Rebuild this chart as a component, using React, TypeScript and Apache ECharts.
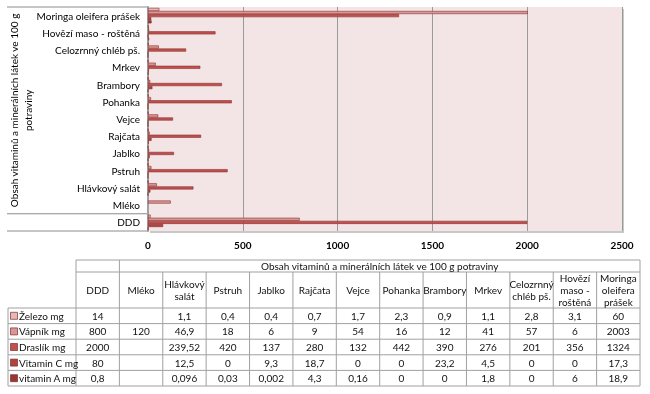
import React, { useEffect, useRef } from "react";
import * as echarts from "echarts";

const categories = [
  "DDD",
  "Mléko",
  "Hlávkový salát",
  "Pstruh",
  "Jablko",
  "Rajčata",
  "Vejce",
  "Pohanka",
  "Brambory",
  "Mrkev",
  "Celozrnný chléb pš.",
  "Hovězí maso - roštěná",
  "Moringa oleifera prášek",
];
const tableHeaders = [
  "DDD",
  "Mléko",
  "Hlávkový\nsalát",
  "Pstruh",
  "Jablko",
  "Rajčata",
  "Vejce",
  "Pohanka",
  "Brambory",
  "Mrkev",
  "Celozrnný\nchléb pš.",
  "Hovězí\nmaso -\nroštěná",
  "Moringa\noleifera\nprášek",
];
const seriesNames = ["Železo mg", "Vápník mg", "Draslík mg", "Vitamin C mg", "vitamin A mg"];
const zelezo = [14, null, 1.1, 0.4, 0.4, 0.7, 1.7, 2.3, 0.9, 1.1, 2.8, 3.1, 60];
const vapnik = [800, 120, 46.9, 18, 6, 9, 54, 16, 12, 41, 57, 6, 2003];
const draslik = [2000, null, 239.52, 420, 137, 280, 132, 442, 390, 276, 201, 356, 1324];
const vitaminC = [80, null, 12.5, 0, 9.3, 18.7, 0, 0, 23.2, 4.5, 0, 0, 17.3];
const vitaminA = [0.8, null, 0.096, 0.03, 0.002, 4.3, 0.16, 0, 0, 1.8, 0, 6, 18.9];
const seriesValues = [zelezo, vapnik, draslik, vitaminC, vitaminA];
const xTicks = [0, 500, 1000, 1500, 2000, 2500];
const groupTitle = "Obsah vitaminů a minerálních látek ve 100 g potraviny";
const axisGroupTitle = "Obsah vitaminů a minerálních látek ve 100 g\npotraviny";

const colors = ["#E6B9B8", "#D99694", "#C0504D", "#AE4441", "#953735"];
const FONT = "Lato";

const fmt = (v: number | null) => (v == null ? "" : String(v).replace(".", ","));

export default function App() {
  const ref = useRef<HTMLDivElement>(null);
  useEffect(() => {
    if (!ref.current) return;
    const chart = echarts.init(ref.current, null, { renderer: "svg" });

    const gridLeft = 148;
    const gridTop = 7;
    const gridRight = 28;
    const gridBottom = 163;
    const W = 650;
    const H = 394;
    const plotBottom = H - gridBottom;
    const plotRight = W - gridRight;
    const plotH = plotBottom - gridTop;
    const bandH = plotH / categories.length;
    const lineColor = "#8C8C8C";

    const graphics: any[] = [];
    // soft shadow behind the plot area
    graphics.push({
      type: "rect",
      z: -10,
      shape: { x: gridLeft + 2, y: gridTop + 2, width: plotRight - gridLeft, height: plotH },
      style: { fill: "#C8C8C8" },
      silent: true,
    });
    // category-axis frame lines
    [gridTop, plotBottom - bandH, plotBottom].forEach((y) => {
      graphics.push({
        type: "line",
        shape: { x1: 7, y1: y, x2: gridLeft, y2: y },
        style: { stroke: lineColor, lineWidth: 1 },
        silent: true,
      });
    });
    graphics.push({
      type: "text",
      x: 21,
      y: (gridTop + plotBottom - bandH) / 2,
      rotation: Math.PI / 2,
      style: {
        text: axisGroupTitle,
        fontFamily: FONT,
        fontSize: 10,
        fill: "#000",
        align: "center",
        verticalAlign: "middle",
        lineHeight: 14,
      },
    });

    // data table
    const tLabelLeft = 8;
    const colStart = 76;
    const colEnd = 640;
    const colW = (colEnd - colStart) / categories.length;
    const tTop = 260;
    const h1 = 272;
    const h2 = 308;
    const rowH = 15.6;
    const tBottom = h2 + rowH * seriesNames.length;
    const tStroke = "#A0A0A0";
    const hl = (y: number, x1: number, x2: number) =>
      graphics.push({ type: "line", shape: { x1, y1: y, x2, y2: y }, style: { stroke: tStroke, lineWidth: 1 }, silent: true });
    const vl = (x: number, y1: number, y2: number) =>
      graphics.push({ type: "line", shape: { x1: x, y1, x2: x, y2 }, style: { stroke: tStroke, lineWidth: 1 }, silent: true });
    hl(tTop, colStart, colEnd);
    hl(h1, colStart, colEnd);
    for (let r = 0; r <= seriesNames.length; r++) hl(h2 + r * rowH, tLabelLeft, colEnd);
    vl(tLabelLeft, h2, tBottom);
    vl(colStart, tTop, tBottom);
    vl(colStart + colW, tTop, tBottom);
    for (let i = 2; i < categories.length; i++) vl(colStart + colW * i, h1, tBottom);
    vl(colEnd, tTop, tBottom);

    const txt = { fontFamily: FONT, fontSize: 10, fill: "#111" };
    graphics.push({
      type: "text",
      x: (colStart + colW + colEnd) / 2,
      y: (tTop + h1) / 2,
      style: { ...txt, text: groupTitle, align: "center", verticalAlign: "middle" },
    });
    tableHeaders.forEach((hdr, i) => {
      graphics.push({
        type: "text",
        x: colStart + colW * (i + 0.5),
        y: (h1 + h2) / 2,
        style: { ...txt, text: hdr, align: "center", verticalAlign: "middle", lineHeight: 12 },
      });
    });
    seriesNames.forEach((name, r) => {
      const cy = h2 + rowH * (r + 0.5);
      graphics.push({
        type: "rect",
        shape: { x: 10.5, y: cy - 3.5, width: 7, height: 7 },
        style: { fill: colors[r], stroke: "#7F2C2A", lineWidth: 0.7 },
      });
      graphics.push({
        type: "text",
        x: 19,
        y: cy,
        style: { ...txt, text: name, align: "left", verticalAlign: "middle" },
      });
      seriesValues[r].forEach((v, i) => {
        graphics.push({
          type: "text",
          x: colStart + colW * (i + 0.5),
          y: cy,
          style: { ...txt, text: fmt(v), align: "center", verticalAlign: "middle" },
        });
      });
    });

    const series = seriesNames.map((name, idx) => ({
      name,
      type: "bar",
      data: seriesValues[idx],
      barGap: "0%",
      barCategoryGap: "10%",
      itemStyle: { color: colors[idx], borderColor: "#8A3331", borderWidth: 0.6 },
      emphasis: { disabled: true },
    }));

    chart.setOption({
      animation: false,
      textStyle: { fontFamily: FONT },
      grid: {
        left: gridLeft,
        right: gridRight,
        top: gridTop,
        bottom: gridBottom,
        show: true,
        backgroundColor: "#F3E5E6",
        borderWidth: 0,
      },
      xAxis: {
        type: "value",
        min: xTicks[0],
        max: xTicks[xTicks.length - 1],
        interval: xTicks[1] - xTicks[0],
        axisLine: { show: false },
        axisTick: { show: false },
        splitLine: { show: true, lineStyle: { color: "#9A9A9A", width: 1 } },
        axisLabel: { color: "#000", fontSize: 10, fontFamily: FONT, fontWeight: "bold", margin: 9, formatter: (v: number) => String(v) },
      },
      yAxis: {
        type: "category",
        data: categories,
        axisLine: { show: true, lineStyle: { color: "#A0A0A0", width: 2 } },
        axisTick: { show: false },
        axisLabel: { color: "#000", fontSize: 10, fontFamily: FONT, margin: 8 },
      },
      series,
      graphic: graphics,
    });
    return () => chart.dispose();
  }, []);
  return <div ref={ref} style={{ position: "fixed", left: 0, top: 0, width: 650, height: 394 }} />;
}
